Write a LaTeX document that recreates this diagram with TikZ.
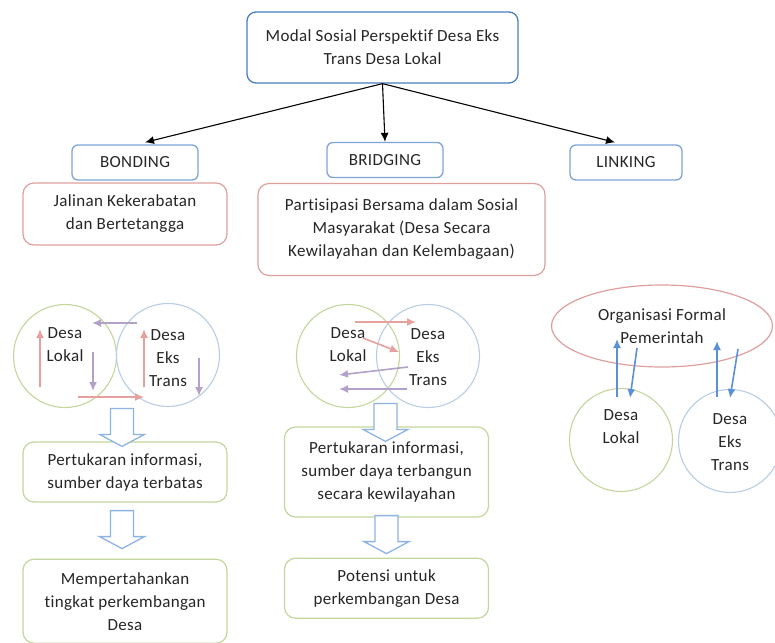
\documentclass[tikz,border=0pt]{standalone}
\usepackage{fontspec}
\setmainfont[Ligatures=NoCommon, LetterSpace=2]{Carlito}
\usetikzlibrary{shapes, arrows.meta, positioning, calc}
\definecolor{mbblue}{RGB}{74,126,187}
\definecolor{mblight}{RGB}{126,165,216}
\definecolor{mbpink}{RGB}{222,160,158}
\definecolor{mbgreen}{RGB}{195,214,155}
\definecolor{mbsky}{RGB}{185,205,229}
\definecolor{mbred}{RGB}{230,160,158}
\definecolor{mbpurple}{RGB}{179,162,199}
\definecolor{mbarrow}{RGB}{91,143,214}
\definecolor{mbhollow}{RGB}{142,180,227}

\begin{document}
\begin{tikzpicture}[
      x=1pt, y=-1pt,
      font=\fontsize{17}{23}\selectfont,
      every node/.style={align=center, text=black!85},
      topbox/.style={rectangle, rounded corners=9pt, draw=mbblue, line width=1.3pt,
        minimum width=271, minimum height=71},
      level/.style={rectangle, rounded corners=6pt, draw=mblight, line width=1.3pt,
        minimum height=35},
      descbox/.style={rectangle, rounded corners=11pt, draw=mbpink, line width=1.2pt},
      resbox/.style={rectangle, rounded corners=11pt, draw=mbgreen, line width=1.2pt,
        minimum width=204},
      desa/.style={circle, draw, line width=1.1pt, minimum size=103, inner sep=0pt},
      arrow/.style={-{Latex[length=9pt,width=8pt]}, line width=1.1pt, black},
      redarr/.style={-{Latex[length=9pt,width=8pt]}, line width=1.6pt, mbred},
      purarr/.style={-{Latex[length=9pt,width=8pt]}, line width=1.6pt, mbpurple},
      bluearr/.style={-{Latex[length=9pt,width=8pt]}, line width=1.6pt, mbarrow},
      flowdown/.pic={
        \draw[mbhollow, line width=1.3pt, fill=white, line join=miter]
          (0,0) -- (-22.5,-12) -- (-11.5,-12) -- (-11.5,-38) -- (11.5,-38)
          -- (11.5,-12) -- (22.5,-12) -- cycle;}
    ]
      \path[fill=white, use as bounding box] (0,0) rectangle (775,642);

      % Top concept
      \node[topbox] (modal) at (382.5,47.5) {Modal Sosial Perspektif Desa Eks\\Trans Desa Lokal};

      % Three kinds of social capital
      \node[level, minimum width=126] (bonding) at (135,162.5) {BONDING};
      \node[level, minimum width=116] (bridging) at (385,160) {BRIDGING};
      \node[level, minimum width=112] (linking) at (626,162.5) {LINKING};

      \draw[arrow] (modal.south) -- ([xshift=10pt, yshift=2pt]bonding.north);
      \draw[arrow] (modal.south) -- (bridging.north);
      \draw[arrow] (modal.south) -- ([xshift=-11pt, yshift=2pt]linking.north);

      % Descriptions
      \node[descbox, minimum width=204, minimum height=62] (jalinan) at (125,214)
        {Jalinan Kekerabatan\\dan Bertetangga};
      \node[descbox, minimum width=287, minimum height=92] (partisipasi) at (401.5,229.5)
        {Partisipasi Bersama dalam Sosial\\Masyarakat (Desa Secara\\Kewilayahan dan Kelembagaan)};

      % Bonding: two villages side by side
      \node[desa, draw=mbgreen] (bondlok) at (65,356) {};
      \node[desa, draw=mbsky] (bondeks) at (168,355) {};
      \node at ($(bondlok)+(0,-11)$) {Desa\\Lokal};
      \node at ($(bondeks)+(0,3)$) {Desa\\Eks\\Trans};
      \draw[redarr] ($(bondlok)+(-25,31)$) -- ($(bondlok)+(-25,-27)$);
      \draw[purarr] ($(bondlok)+(28,-4)$) -- ($(bondlok)+(28,35)$);
      \draw[purarr] ($(bondeks)+(-31,-32)$) -- ($(bondlok)+(27,-33)$);
      \draw[redarr] ($(bondlok)+(13,41)$) -- ($(bondeks)+(-24,42)$);
      \draw[redarr] ($(bondeks)+(-24,32)$) -- ($(bondeks)+(-24,-26)$);
      \draw[purarr] ($(bondeks)+(31,3)$) -- ($(bondeks)+(31,41)$);

      % Bridging: overlapping villages
      \node[desa, draw=mbgreen] (bridlok) at (348,356) {};
      \node[desa, draw=mbsky] (brideks) at (428,356) {};
      \node at ($(bridlok)+(0,-11)$) {Desa\\Lokal};
      \node at ($(brideks)+(0,1)$) {Desa\\Eks\\Trans};
      \draw[redarr] ($(bridlok)+(7,-34)$) -- ($(brideks)+(-12,-34)$);
      \draw[redarr] ($(bridlok)+(15,-18)$) -- ($(brideks)+(-29,-4)$);
      \draw[purarr] ($(brideks)+(-20,11)$) -- ($(bridlok)+(-9,19)$);
      \draw[purarr] ($(brideks)+(-21,33)$) -- ($(bridlok)+(-9,33)$);

      % Linking: both villages to the government
      \node[ellipse, draw=mbpink, line width=1.2pt, minimum width=221, minimum height=82,
        inner sep=0pt] (organisasi) at (662,326) {Organisasi Formal\\Pemerintah};
      \node[desa, draw=mbgreen] (linklok) at (621,440) {};
      \node[desa, draw=mbsky] (linkeks) at (730,441) {};
      \node at ($(linklok)+(0,-13)$) {Desa\\Lokal};
      \node at ($(linkeks)+(0,1)$) {Desa\\Eks\\Trans};
      \draw[bluearr] ($(linklok)+(-4,-43)$) -- ($(organisasi)+(-45,13)$);
      \draw[bluearr] ($(organisasi)+(-25,22)$) -- ($(linklok)+(9,-42)$);
      \draw[bluearr] ($(linkeks)+(-13,-44)$) -- ($(organisasi)+(55,15)$);
      \draw[bluearr] ($(organisasi)+(76,23)$) -- ($(linkeks)+(0,-43)$);

      % Outcomes
      \node[resbox, minimum height=60] (bondres) at (125,472)
        {Pertukaran informasi,\\sumber daya terbatas};
      \node[resbox, minimum height=84, below=56pt of bondres] (bondpot)
        {Mempertahankan\\tingkat perkembangan\\Desa};
      \node[resbox, minimum height=90] (bridres) at (386.5,472)
        {Pertukaran informasi,\\sumber daya terbangun\\secara kewilayahan};
      \node[resbox, minimum height=60, below=40pt of bridres] (bridpot)
        {Potensi untuk\\perkembangan Desa};

      % Flow arrows
      \pic at ($(bondres.north)+(-3,5)$) {flowdown};
      \pic at ($(bondpot.north)+(-3,-10)$) {flowdown};
      \pic at ($(bridres.north)+(-1,15)$) {flowdown};
      \pic at ($(bridpot.north)+(0,-4)$) {flowdown};
    \end{tikzpicture}
\end{document}
